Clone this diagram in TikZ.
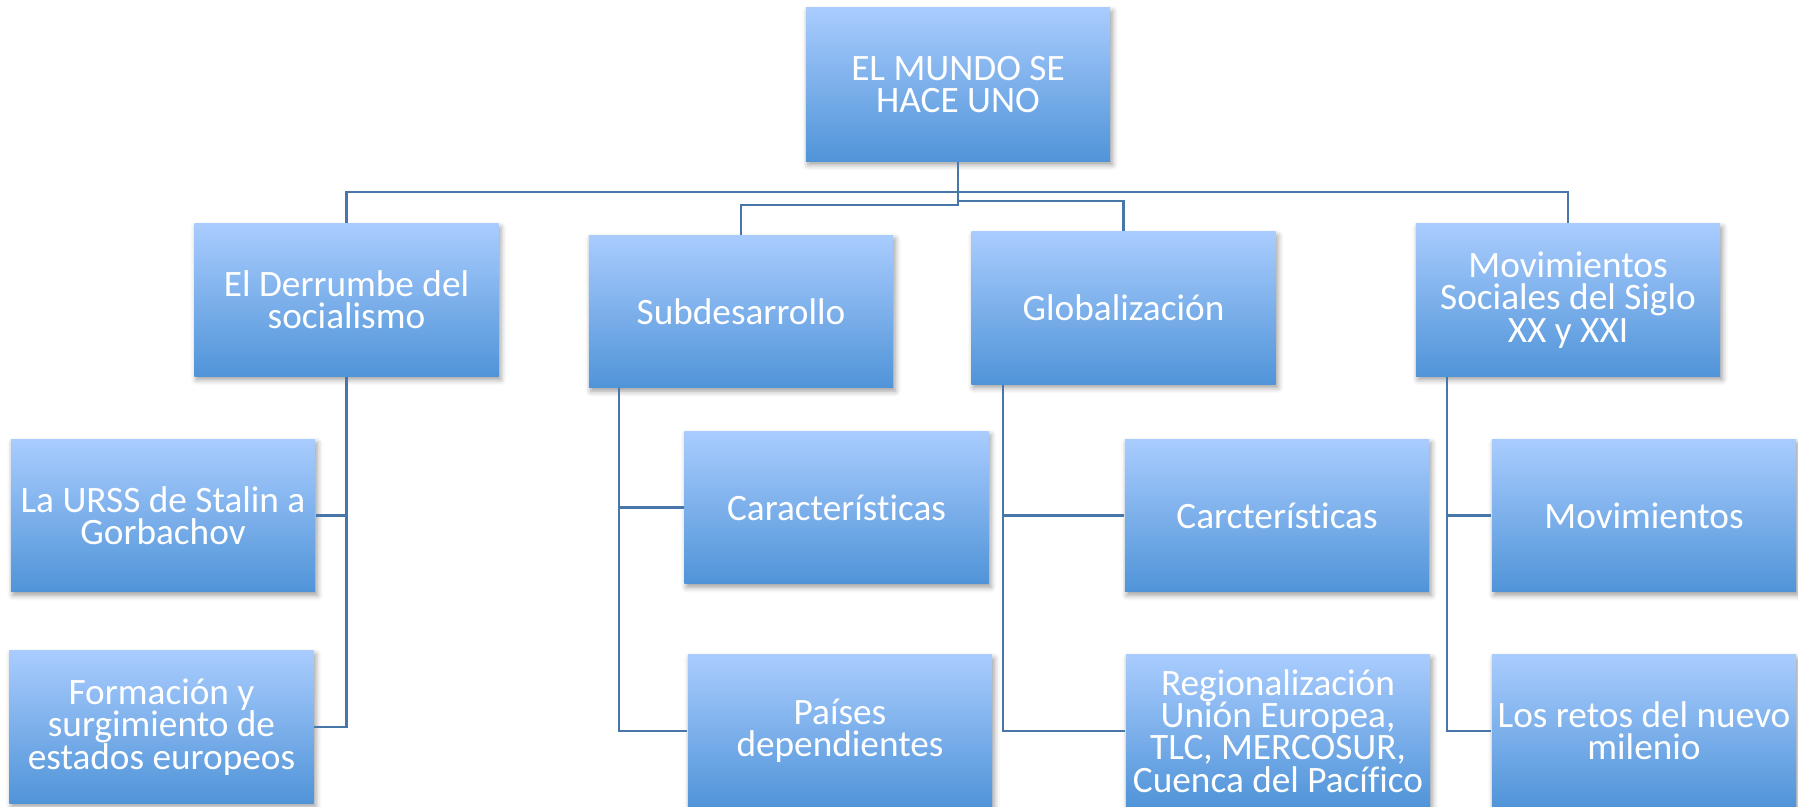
\documentclass[tikz,border=0pt]{standalone}
\usepackage{fontspec}
\setmainfont{Carlito}[Ligatures = CommonOff]
\usepackage{tikz}
\usetikzlibrary{shadows.blur}

\definecolor{boxtop}{RGB}{169,204,254}
\definecolor{boxbot}{RGB}{80,148,216}
\definecolor{linkblue}{RGB}{72,118,168}

\begin{document}
\begin{tikzpicture}[x = 0.01cm, y = -0.01cm,
  topic/.style = {rectangle, minimum width = 3.04cm, minimum height = 1.52cm, inner sep = 1pt,
    top color = boxtop, bottom color = boxbot, text = white, align = center,
    font = \fontsize{10.6}{9.2}\selectfont,
    blur shadow = {shadow xshift = 0.6pt, shadow yshift = -1pt, shadow blur radius = 1.6pt, shadow opacity = 40}},
  link/.style = {draw = linkblue, line width = 0.7pt}]
\useasboundingbox (0, 0) rectangle (1798, 807);

\node[topic, minimum height = 1.53cm] (root) at (958, 84.5) {EL MUNDO SE\\HACE UNO};

\node[topic] (derrumbe) at (346.5, 300) {El Derrumbe del\\socialismo};
\node[topic] (subdes) at (741, 311.5) {Subdesarrollo};
\node[topic] (glob) at (1123.5, 308) {Globalización};
\node[topic] (movsoc) at (1568, 300) {Movimientos\\Sociales del Siglo\\XX y XXI};

\node[topic] (urss) at (163, 515.5) {La URSS de Stalin a\\Gorbachov};
\node[topic] (formacion) at (161.5, 727) {Formación y\\surgimiento de\\estados europeos};
\node[topic] (caract) at (836.5, 507.5) {Características};
\node[topic] (paises) at (840, 731) {Países\\dependientes};
\node[topic] (carcter) at (1277, 515.5) {Carcterísticas};
\node[topic] (regional) at (1278, 731) {Regionalización\\Unión Europea,\\TLC, MERCOSUR,\\Cuenca del Pacífico};
\node[topic] (movim) at (1644, 515.5) {Movimientos};
\node[topic] (retos) at (1644, 731) {Los retos del nuevo\\milenio};

\draw[link] (root.south) -- ++(0, 30) -| (derrumbe.north);
\draw[link] (root.south) -- ++(0, 30) -| (movsoc.north);
\draw[link] (root.south) -- ++(0, 43) -| (subdes.north);
\draw[link] (root.south) -- ++(0, 39) -| (glob.north);

\draw[link] (derrumbe.south) |- (urss.east);
\draw[link] (derrumbe.south) |- (formacion.east);
\draw[link] ([xshift = 0.31cm]subdes.south west) |- (caract.west);
\draw[link] ([xshift = 0.31cm]subdes.south west) |- (paises.west);
\draw[link] ([xshift = 0.32cm]glob.south west) |- (carcter.west);
\draw[link] ([xshift = 0.32cm]glob.south west) |- (regional.west);
\draw[link] ([xshift = 0.32cm]movsoc.south west) |- (movim.west);
\draw[link] ([xshift = 0.32cm]movsoc.south west) |- (retos.west);
\end{tikzpicture}
\end{document}
